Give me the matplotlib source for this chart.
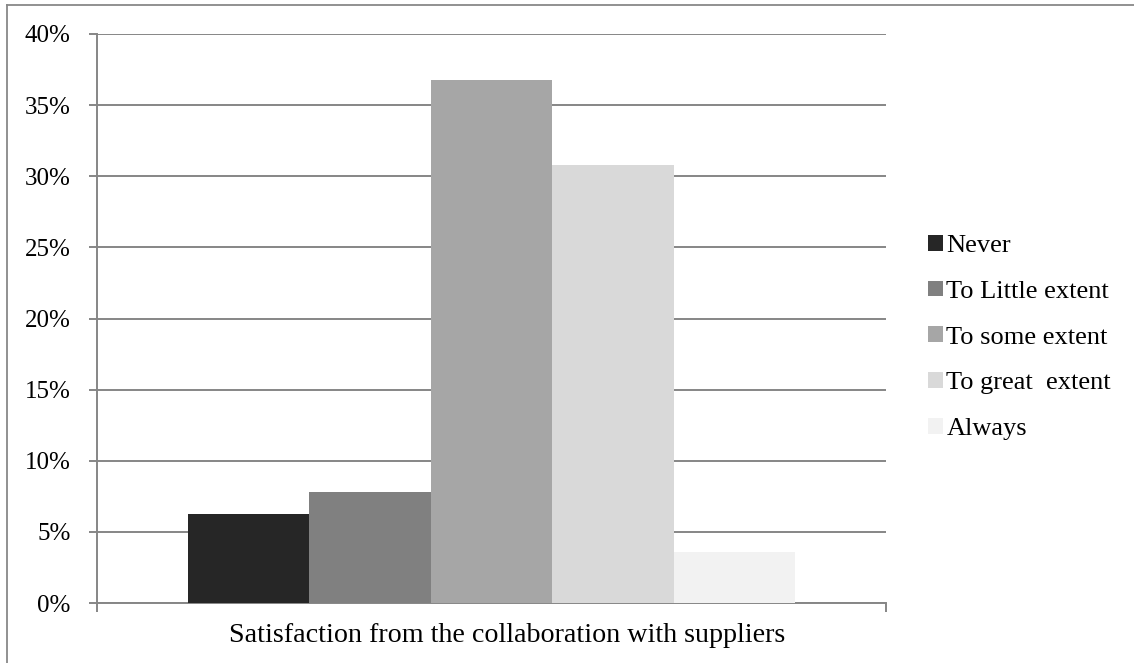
import matplotlib
matplotlib.use("Agg")
import matplotlib.pyplot as plt
from matplotlib.patches import Patch
from matplotlib.lines import Line2D

plt.rcParams['font.family'] = ['Liberation Serif', 'DejaVu Serif']

# Data
category = "Satisfaction from the collaboration with suppliers"
series = ["Never", "To Little extent", "To some extent", "To great  extent", "Always"]
values = [6.25, 7.8, 36.8, 30.8, 3.6]  # percent
colors = ["#262626", "#808080", "#a6a6a6", "#d9d9d9", "#f2f2f2"]
yticks = [0, 5, 10, 15, 20, 25, 30, 35, 40]
ytick_labels = ["0%", "5%", "10%", "15%", "20%", "25%", "30%", "35%", "40%"]

W, H = 1134, 663
fig = plt.figure(figsize=(W / 100, H / 100), dpi=100)
ax = fig.add_axes([97 / W, (H - 603) / H, (886 - 97) / W, (603 - 34) / H])

grid_col = "#868686"
n = len(values)
gap = 1.5
w = 1.0 / (n + gap)
start = -0.5 + gap / 2 * w
for i, (name, v, c) in enumerate(zip(series, values, colors)):
    ax.bar(start + (i + 0.5) * w, v, width=w, color=c, label=name, zorder=3,
           linewidth=0)

ax.set_xlim(-0.5, 0.5)
ax.set_ylim(0, 40)
ax.set_yticks(yticks)
ax.set_yticklabels(ytick_labels)
ax.yaxis.grid(True, color=grid_col, linewidth=1.4, zorder=0)
ax.set_axisbelow(True)

# Category boundary ticks on the x axis
ax.set_xticks([-0.5, 0.5])
ax.set_xticklabels(["", ""])
ax.tick_params(axis='x', length=6.5, width=1.4, color=grid_col, direction='out')
ax.tick_params(axis='y', length=6, width=1.4, color=grid_col, direction='out',
               pad=13, labelsize=18)

for s in ["top", "right"]:
    ax.spines[s].set_visible(False)
for s in ["left", "bottom"]:
    ax.spines[s].set_color(grid_col)
    ax.spines[s].set_linewidth(1.4)

# Category label
fig.text(507.5 / W, (H - 635) / H, category, fontsize=20.2, ha='center', va='center')

# Legend
handles = [Patch(facecolor=c, edgecolor='none') for c in colors]
fig.legend(handles, series, loc='center left',
           bbox_to_anchor=(928 / W, (H - 337.5) / H), frameon=False,
           fontsize=19, handlelength=0.55, handleheight=0.55,
           handletextpad=0.15, labelspacing=0.89, borderpad=0, borderaxespad=0)

# Outer chart border (top and left edges)
fig.add_artist(Line2D([7 / W, 1.0], [(H - 5) / H, (H - 5) / H],
                      transform=fig.transFigure, color="#888888", linewidth=1.3))
fig.add_artist(Line2D([7 / W, 7 / W], [0.0, (H - 5) / H],
                      transform=fig.transFigure, color="#888888", linewidth=1.3))

fig.savefig("out.png", dpi=100, facecolor="white")
